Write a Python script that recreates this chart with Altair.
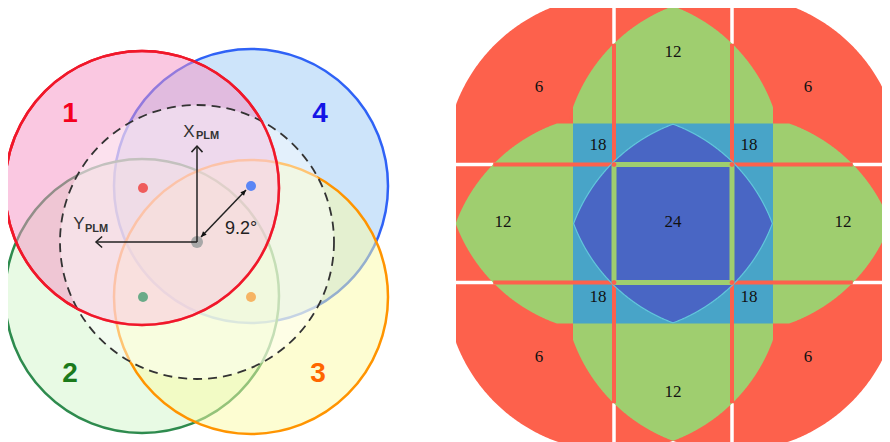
import math
import altair as alt
import pandas as pd

W, H = 874, 434          # drawing spans page pixels 8..882 x 8..442
XD = [8, 882]
YD = [8, 442]

# ---------------- Left panel data ----------------
# circles, drawn bottom to top: 4 (blue), 2 (green), 3 (orange), 1 (red)
circ_cx = [251, 142, 251, 142]
circ_cy = [186, 296, 297, 188]
circ_r = [137, 137, 137, 137]
circ_fill = ["#9bc9f5", "#d1f5c9", "#fbfba5", "#f591c3"]
circ_stroke = ["#2f62f6", "#2e8b4e", "#ff9400", "#f0182a"]
circ_fill_op = [0.5, 0.5, 0.5, 0.5]

dash_cx, dash_cy, dash_r = [197], [242], [137]

dot_x = [143, 251, 143, 251, 197]
dot_y = [188, 186, 297, 297, 242]
dot_color = ["#ef5c5c", "#5b86f5", "#6aab88", "#f6b464", "#a8a8a8"]
dot_r = [5, 5, 5, 5, 6]

num_text = ["1", "4", "2", "3"]
num_x = [70, 320, 70, 318]
num_y = [114, 114, 374, 374]
num_color = ["#f5001e", "#1414e6", "#1b7a1b", "#ff6600"]

# axis arrows (tail -> tip)
ax_x1 = [197, 197]
ax_y1 = [242, 242]
ax_x2 = [197, 96]
ax_y2 = [146, 242]
ax_head = ["M-0.9,1L0,0L0.9,1", "M1,-0.9L0,0L1,0.9"]

# 9.2 degree double arrow
ang_x1, ang_y1, ang_x2, ang_y2 = 201, 237, 246, 190

big_lbl = ["X", "Y"]
big_x = [189, 79]
big_y = [137, 229]
sub_lbl = ["PLM", "PLM"]
sub_x = [196, 85]
sub_y = [139, 232]
deg_lbl = ["9.2°"]
deg_x = [241]
deg_y = [234]

# ---------------- Right panel data ----------------
R_CX, R_CY = 673, 223.5
R_OFF = 59          # offset of each of the 4 fields from the centre
R_RAD = 169         # field radius
SQ = [456, 890, 5, 442]   # outer square x0, x1, y0, y1
BOX_HALF = 100
cov_color = {"6": "#fd614c", "12": "#9fce6f", "18": "#48a4c8", "24": "#4966c4"}
gap_white_w, gap_red_w, gap_green_w = 3.5, 4.0, 5.0

cov_text = ["6", "6", "6", "6", "12", "12", "12", "12", "18", "18", "18", "18", "24"]
cov_x = [539, 808, 539, 808, 673, 503, 843, 673, 598, 749, 598, 749, 673]
cov_y = [87, 87, 357, 357, 52, 222, 222, 392, 145, 145, 297, 297, 222]

# ---------------- geometry helpers ----------------
TL = (R_CX - R_OFF, R_CY - R_OFF)
TR = (R_CX + R_OFF, R_CY - R_OFF)
BL = (R_CX - R_OFF, R_CY + R_OFF)
BR = (R_CX + R_OFF, R_CY + R_OFF)
bx0, bx1 = R_CX - BOX_HALF, R_CX + BOX_HALF
by0, by1 = R_CY - BOX_HALF, R_CY + BOX_HALF


def circ_pts(c, r, n=720):
    return [(c[0] + r * math.cos(2 * math.pi * i / n), c[1] + r * math.sin(2 * math.pi * i / n)) for i in range(n)]


def inc(p, c, r=R_RAD, tol=1e-6):
    return (p[0] - c[0]) ** 2 + (p[1] - c[1]) ** 2 <= r * r + tol


def pair_pts(a, b, r):
    dx, dy = b[0] - a[0], b[1] - a[1]
    d = math.hypot(dx, dy)
    if d == 0 or d > 2 * r:
        return []
    h = math.sqrt(r * r - (d / 2) ** 2)
    mx, my = a[0] + dx / 2, a[1] + dy / 2
    return [(mx - dy / d * h, my + dx / d * h), (mx + dy / d * h, my - dx / d * h)]


def inter_poly(cs, r=R_RAD):
    pts = []
    for c in cs:
        for p in circ_pts(c, r, 1440):
            if all(inc(p, o, r, 1e-6) for o in cs):
                pts.append(p)
    for i in range(len(cs)):
        for j in range(i + 1, len(cs)):
            for p in pair_pts(cs[i], cs[j], r):
                if all(inc(p, o, r, 1e-3) for o in cs):
                    pts.append(p)
    mx = sum(p[0] for p in pts) / len(pts)
    my = sum(p[1] for p in pts) / len(pts)
    pts.sort(key=lambda p: math.atan2(p[1] - my, p[0] - mx))
    return pts


def clamp(pts, x0, x1, y0, y1):
    return [(min(max(x, x0), x1), min(max(y, y0), y1)) for x, y in pts]


def rect(x0, x1, y0, y1):
    return [(x0, y0), (x1, y0), (x1, y1), (x0, y1)]


def feat(pts, fill, stroke="transparent", sw=0):
    ring = [[round(x, 2), round(y, 2)] for x, y in pts]
    ring.append(ring[0])
    return {"type": "Feature", "geometry": {"type": "Polygon", "coordinates": [ring]},
            "properties": {"fill": fill, "stroke": stroke, "sw": sw}}


def green_at(p):
    vert = ((inc(p, TL) and inc(p, TR)) or (inc(p, BL) and inc(p, BR))) and bx0 <= p[0] <= bx1
    horiz = ((inc(p, TL) and inc(p, BL)) or (inc(p, TR) and inc(p, BR))) and by0 <= p[1] <= by1
    return vert or horiz


def green_extent_v(xl):
    ys = [SQ[2] + 0.25 * i for i in range(int((SQ[3] - SQ[2]) / 0.25) + 1)]
    g = [y for y in ys if green_at((xl, y))]
    return min(g), max(g)


def green_extent_h(yl):
    xs = [SQ[0] + 0.25 * i for i in range(int((SQ[1] - SQ[0]) / 0.25) + 1)]
    g = [x for x in xs if green_at((x, yl))]
    return min(g), max(g)


feats = []
# 6: union of fields inside the outer square
for c in (TL, TR, BL, BR):
    feats.append(feat(clamp(circ_pts(c, R_RAD), *SQ), cov_color["6"]))
# white gaps
vx = [TL[0], TR[0]]
hy = [TL[1], BL[1]]
for x in vx:
    feats.append(feat(rect(x - gap_white_w / 2, x + gap_white_w / 2, SQ[2], SQ[3]), "#ffffff"))
for y in hy:
    feats.append(feat(rect(SQ[0], SQ[1], y - gap_white_w / 2, y + gap_white_w / 2), "#ffffff"))
# 12: lenses
for pair in ((TL, TR), (BL, BR)):
    feats.append(feat(clamp(inter_poly(list(pair)), bx0, bx1, SQ[2], SQ[3]), cov_color["12"]))
for pair in ((TL, BL), (TR, BR)):
    feats.append(feat(clamp(inter_poly(list(pair)), SQ[0], SQ[1], by0, by1), cov_color["12"]))
# 18: central box
feats.append(feat(rect(bx0, bx1, by0, by1), cov_color["18"]))
# red gaps inside green / box
for x in vx:
    a, b = green_extent_v(x)
    feats.append(feat(rect(x - gap_red_w / 2, x + gap_red_w / 2, a, b), cov_color["6"]))
for y in hy:
    a, b = green_extent_h(y)
    feats.append(feat(rect(a, b, y - gap_red_w / 2, y + gap_red_w / 2), cov_color["6"]))
# 24: all four fields
feats.append(feat(inter_poly([TL, TR, BL, BR]), cov_color["24"], "#62c6dc", 1.2))
# green gaps inside 24
for x in vx:
    feats.append(feat(rect(x - gap_green_w / 2, x + gap_green_w / 2, hy[0], hy[1]), cov_color["12"]))
for y in hy:
    feats.append(feat(rect(vx[0], vx[1], y - gap_green_w / 2, y + gap_green_w / 2), cov_color["12"]))
# red crossing dots
for x in vx:
    for y in hy:
        feats.append(feat(circ_pts((x, y), 2.4, 24), cov_color["6"]))

xs = alt.Scale(domain=XD, nice=False, zero=False)
ys = alt.Scale(domain=YD, nice=False, zero=False, reverse=True)


def X(f="x"):
    return alt.X(f"{f}:Q", scale=xs, axis=None)


def Y(f="y"):
    return alt.Y(f"{f}:Q", scale=ys, axis=None)


right = alt.Chart(alt.Data(values=feats)).mark_geoshape().encode(
    fill=alt.Fill("properties.fill:N", scale=None),
    stroke=alt.Stroke("properties.stroke:N", scale=None),
    strokeWidth=alt.StrokeWidth("properties.sw:Q", scale=None),
).project(type="identity", scale=1, translate=[-8, -8])

circ_df = pd.DataFrame({"x": circ_cx, "y": circ_cy, "size": [(2 * r) ** 2 for r in circ_r],
                        "f": circ_fill, "s": circ_stroke, "fo": circ_fill_op, "o": list(range(4))})
circles = alt.Chart(circ_df).mark_point(shape="circle", filled=True, opacity=1, strokeWidth=2.5).encode(
    x=X(), y=Y(), size=alt.Size("size:Q", scale=None),
    fill=alt.Fill("f:N", scale=None), stroke=alt.Stroke("s:N", scale=None),
    fillOpacity=alt.FillOpacity("fo:Q", scale=None), order="o:Q")

dash_df = pd.DataFrame({"x": dash_cx, "y": dash_cy, "size": [(2 * r) ** 2 for r in dash_r]})
dashed = alt.Chart(dash_df).mark_point(shape="circle", filled=True, opacity=1, fill="#ffffff",
                                      fillOpacity=0.45, stroke="#333333", strokeWidth=1.8,
                                      strokeDash=[9, 6]).encode(
    x=X(), y=Y(), size=alt.Size("size:Q", scale=None))

# red (circle 1) outline stays strong above the dashed veil
red_df = circ_df.iloc[[3]]
red_outline = alt.Chart(red_df).mark_point(shape="circle", filled=False, opacity=1, strokeWidth=2.5).encode(
    x=X(), y=Y(), size=alt.Size("size:Q", scale=None), stroke=alt.Stroke("s:N", scale=None))

dot_df = pd.DataFrame({"x": dot_x, "y": dot_y, "c": dot_color, "size": [(2 * r) ** 2 for r in dot_r]})
dots = alt.Chart(dot_df).mark_point(shape="circle", filled=True, opacity=1).encode(
    x=X(), y=Y(), size=alt.Size("size:Q", scale=None), fill=alt.Fill("c:N", scale=None))

rule_df = pd.DataFrame({"x": ax_x1 + [ang_x1], "y": ax_y1 + [ang_y1],
                        "x2": ax_x2 + [ang_x2], "y2": ax_y2 + [ang_y2]})
rules = alt.Chart(rule_df).mark_rule(color="#222222", strokeWidth=1.5).encode(
    x=X(), y=Y(), x2="x2:Q", y2="y2:Q")

chev_layers = []
for i in range(len(ax_x2)):
    chev_layers.append(alt.Chart(pd.DataFrame({"x": [ax_x2[i]], "y": [ax_y2[i]]})).mark_point(
        shape=ax_head[i], filled=False, opacity=1, color="#222222", strokeWidth=1.5, size=150).encode(
        x=X(), y=Y()))

ang = math.degrees(math.atan2(ang_x2 - ang_x1, -(ang_y2 - ang_y1)))
head_df = pd.DataFrame({"x": [ang_x2, ang_x1], "y": [ang_y2, ang_y1], "a": [ang, (ang + 180) % 360]})
heads = alt.Chart(head_df).mark_point(shape="M0,0L-0.5,1.1L0.5,1.1Z", filled=True, opacity=1,
                                      color="#111111", size=100).encode(
    x=X(), y=Y(), angle=alt.Angle("a:Q", scale=None))

num_df = pd.DataFrame({"x": num_x, "y": num_y, "t": num_text, "c": num_color})
nums = alt.Chart(num_df).mark_text(font="Liberation Sans", fontSize=28, fontWeight="bold",
                                   baseline="middle", align="center").encode(
    x=X(), y=Y(), text="t:N", color=alt.Color("c:N", scale=None))

big_df = pd.DataFrame({"x": big_x, "y": big_y, "t": big_lbl})
bigs = alt.Chart(big_df).mark_text(font="Liberation Sans", fontSize=17, baseline="alphabetic",
                                   align="center", color="#333333").encode(x=X(), y=Y(), text="t:N")
sub_df = pd.DataFrame({"x": sub_x, "y": sub_y, "t": sub_lbl})
subs = alt.Chart(sub_df).mark_text(font="Liberation Sans", fontSize=11, fontWeight="bold",
                                   baseline="alphabetic", align="left", color="#333333").encode(
    x=X(), y=Y(), text="t:N")
deg_df = pd.DataFrame({"x": deg_x, "y": deg_y, "t": deg_lbl})
degs = alt.Chart(deg_df).mark_text(font="Liberation Sans", fontSize=18, baseline="alphabetic",
                                   align="center", color="#222222").encode(x=X(), y=Y(), text="t:N")

cov_df = pd.DataFrame({"x": cov_x, "y": cov_y, "t": cov_text})
covs = alt.Chart(cov_df).mark_text(font="Liberation Serif", fontSize=17, baseline="middle",
                                   align="center", color="#111111").encode(x=X(), y=Y(), text="t:N")

chart = alt.layer(right, circles, dashed, red_outline, dots, rules, *chev_layers, heads, nums,
                  bigs, subs, degs, covs).properties(
    width=W, height=H, padding=0, autosize="none", background="#ffffff"
).configure_view(strokeWidth=0)

chart.save("out.html", embed_options={"renderer": "svg", "actions": False})
